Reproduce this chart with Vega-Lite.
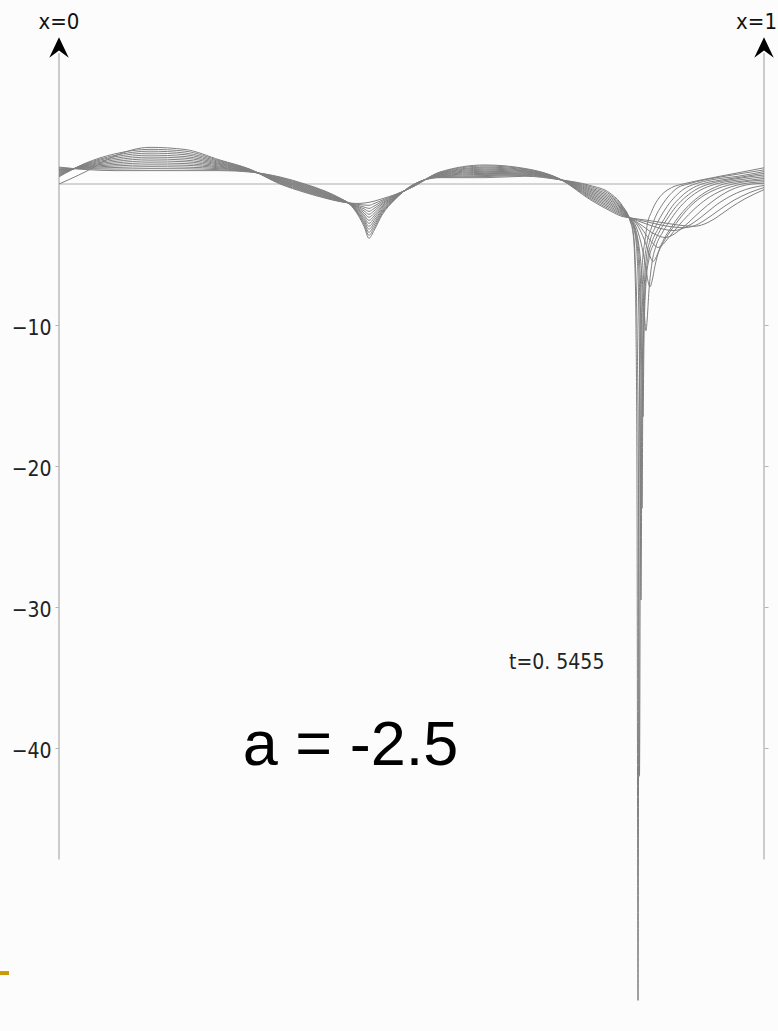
{
"$schema": "https://vega.github.io/schema/vega-lite/v6.json",
"width": 705, "height": 1031,
"autosize": {"type": "none"},
"padding": {"left": 59, "top": 0, "right": 14, "bottom": 0},
"background": "#fcfcfc",
"config": {"view": {"stroke": null}},
"resolve": {"axis": {"y": "independent"}},
"datasets": {
"axes": [{"x": 0, "u": -47.9, "u2": 9.3}, {"x": 1, "u": -47.9, "u2": 9.3}],
"zero": [{"x": 0, "x2": 1, "u": 0}],
"arrows": [{"x": 0, "u": 9.68}, {"x": 1, "u": 9.68}],
"xlabel0": [{"x": 0, "u": 11.5, "label": "x=0"}],
"xlabel1": [{"x": 1.0184, "u": 11.5, "label": "x=1"}],
"tlabel": [{"x": 0.706, "u": -33.97, "label": "t=0. 5455"}],
"alabel": [{"x": 0.4135, "u": -41.2, "label": "a = -2.5"}],
"bar": [{"x": -0.0837, "x2": -0.0709, "u": -55.96}],
"curves": [
{"t":0,"x":0,"u":0},{"t":0,"x":0.0369,"u":0.85},{"t":0,"x":0.0794,"u":2.0},{"t":0,"x":0.1291,"u":2.6},{"t":0,"x":0.1787,"u":2.45},{"t":0,"x":0.2284,"u":1.7},{"t":0,"x":0.2709,"u":1.05},{"t":0,"x":0.3135,"u":0},{"t":0,"x":0.3489,"u":-0.6},{"t":0,"x":0.3773,"u":-1.0},{"t":0,"x":0.3986,"u":-1.25},{"t":0,"x":0.4128,"u":-1.35},{"t":0,"x":0.4241,"u":-1.38},{"t":0,"x":0.4326,"u":-1.35},{"t":0,"x":0.4397,"u":-1.3},{"t":0,"x":0.4468,"u":-1.22},{"t":0,"x":0.4582,"u":-1.05},{"t":0,"x":0.4766,"u":-0.75},{"t":0,"x":0.5021,"u":-0.2},{"t":0,"x":0.5404,"u":0.85},{"t":0,"x":0.6043,"u":1.35},{"t":0,"x":0.661,"u":1.1},{"t":0,"x":0.7106,"u":0.35},{"t":0,"x":0.7532,"u":-1.1},{"t":0,"x":0.7816,"u":-1.9},{"t":0,"x":0.7986,"u":-2.3},
{"t":0,"x":0.8099,"u":-2.4},{"t":0,"x":0.8383,"u":-2.6},{"t":0,"x":0.8638,"u":-2.8},{"t":0,"x":0.8851,"u":-2.95},{"t":0,"x":0.9007,"u":-3.0},{"t":0,"x":0.9149,"u":-2.85},{"t":0,"x":0.9319,"u":-2.4},{"t":0,"x":0.9518,"u":-1.7},{"t":0,"x":0.973,"u":-1.05},{"t":0,"x":1,"u":-0.4},

{"t":0.0455,"x":0,"u":0.51},{"t":0.0455,"x":0.0369,"u":1.46},{"t":0.0455,"x":0.0794,"u":2.14},{"t":0.0455,"x":0.1291,"u":2.46},{"t":0.0455,"x":0.1787,"u":2.33},{"t":0.0455,"x":0.2284,"u":1.64},{"t":0.0455,"x":0.2709,"u":1.03},{"t":0.0455,"x":0.3135,"u":0.04},{"t":0.0455,"x":0.3489,"u":-0.55},{"t":0.0455,"x":0.3773,"u":-0.96},{"t":0.0455,"x":0.3986,"u":-1.23},{"t":0.0455,"x":0.4128,"u":-1.36},{"t":0.0455,"x":0.4241,"u":-1.45},{"t":0.0455,"x":0.4326,"u":-1.49},{"t":0.0455,"x":0.4397,"u":-1.51},{"t":0.0455,"x":0.4468,"u":-1.39},{"t":0.0455,"x":0.4582,"u":-1.15},{"t":0.0455,"x":0.4766,"u":-0.78},{"t":0.0455,"x":0.5021,"u":-0.19},{"t":0.0455,"x":0.5404,"u":0.82},{"t":0.0455,"x":0.6043,"u":1.28},{"t":0.0455,"x":0.661,"u":1.06},{"t":0.0455,"x":0.7106,"u":0.35},{"t":0.0455,"x":0.7532,"u":-1.02},{"t":0.0455,"x":0.7816,"u":-1.8},{"t":0.0455,"x":0.7986,"u":-2.23},
{"t":0.0455,"x":0.8099,"u":-2.4},{"t":0.0455,"x":0.8355,"u":-2.7},{"t":0.0455,"x":0.8582,"u":-2.95},{"t":0.0455,"x":0.8752,"u":-3.07},{"t":0.0455,"x":0.8865,"u":-3.1},{"t":0.0455,"x":0.8993,"u":-3.0},{"t":0.0455,"x":0.9149,"u":-2.6},{"t":0.0455,"x":0.9348,"u":-1.9},{"t":0.0455,"x":0.9574,"u":-1.15},{"t":0.0455,"x":0.9801,"u":-0.6},{"t":0.0455,"x":1,"u":-0.25},

{"t":0.0909,"x":0,"u":0.58},{"t":0.0909,"x":0.0369,"u":1.42},{"t":0.0909,"x":0.0794,"u":2.03},{"t":0.0909,"x":0.1291,"u":2.33},{"t":0.0909,"x":0.1787,"u":2.2},{"t":0.0909,"x":0.2284,"u":1.58},{"t":0.0909,"x":0.2709,"u":1.02},{"t":0.0909,"x":0.3135,"u":0.08},{"t":0.0909,"x":0.3489,"u":-0.5},{"t":0.0909,"x":0.3773,"u":-0.92},{"t":0.0909,"x":0.3986,"u":-1.21},{"t":0.0909,"x":0.4128,"u":-1.37},{"t":0.0909,"x":0.4241,"u":-1.52},{"t":0.0909,"x":0.4326,"u":-1.63},{"t":0.0909,"x":0.4397,"u":-1.73},{"t":0.0909,"x":0.4468,"u":-1.57},{"t":0.0909,"x":0.4582,"u":-1.24},{"t":0.0909,"x":0.4766,"u":-0.81},{"t":0.0909,"x":0.5021,"u":-0.18},{"t":0.0909,"x":0.5404,"u":0.78},{"t":0.0909,"x":0.6043,"u":1.2},{"t":0.0909,"x":0.661,"u":1.01},{"t":0.0909,"x":0.7106,"u":0.34},{"t":0.0909,"x":0.7532,"u":-0.93},{"t":0.0909,"x":0.7816,"u":-1.69},{"t":0.0909,"x":0.7986,"u":-2.17},
{"t":0.0909,"x":0.8099,"u":-2.4},{"t":0.0909,"x":0.8312,"u":-2.8},{"t":0.0909,"x":0.8496,"u":-3.1},{"t":0.0909,"x":0.8638,"u":-3.27},{"t":0.0909,"x":0.8723,"u":-3.3},{"t":0.0909,"x":0.8823,"u":-3.2},{"t":0.0909,"x":0.895,"u":-2.9},{"t":0.0909,"x":0.9121,"u":-2.3},{"t":0.0909,"x":0.9319,"u":-1.5},{"t":0.0909,"x":0.9546,"u":-0.8},{"t":0.0909,"x":0.9801,"u":-0.3},{"t":0.0909,"x":1,"u":-0.1},

{"t":0.1364,"x":0,"u":0.64},{"t":0.1364,"x":0.0369,"u":1.38},{"t":0.1364,"x":0.0794,"u":1.93},{"t":0.1364,"x":0.1291,"u":2.19},{"t":0.1364,"x":0.1787,"u":2.08},{"t":0.1364,"x":0.2284,"u":1.51},{"t":0.1364,"x":0.2709,"u":1.0},{"t":0.1364,"x":0.3135,"u":0.13},{"t":0.1364,"x":0.3489,"u":-0.45},{"t":0.1364,"x":0.3773,"u":-0.88},{"t":0.1364,"x":0.3986,"u":-1.19},{"t":0.1364,"x":0.4128,"u":-1.38},{"t":0.1364,"x":0.4241,"u":-1.59},{"t":0.1364,"x":0.4326,"u":-1.76},{"t":0.1364,"x":0.4397,"u":-1.94},{"t":0.1364,"x":0.4468,"u":-1.74},{"t":0.1364,"x":0.4582,"u":-1.34},{"t":0.1364,"x":0.4766,"u":-0.84},{"t":0.1364,"x":0.5021,"u":-0.16},{"t":0.1364,"x":0.5404,"u":0.75},{"t":0.1364,"x":0.6043,"u":1.13},{"t":0.1364,"x":0.661,"u":0.96},{"t":0.1364,"x":0.7106,"u":0.34},{"t":0.1364,"x":0.7532,"u":-0.85},{"t":0.1364,"x":0.7816,"u":-1.59},{"t":0.1364,"x":0.7986,"u":-2.1},
{"t":0.1364,"x":0.8099,"u":-2.4},{"t":0.1364,"x":0.827,"u":-2.95},{"t":0.1364,"x":0.8411,"u":-3.45},{"t":0.1364,"x":0.8525,"u":-3.72},{"t":0.1364,"x":0.8596,"u":-3.8},{"t":0.1364,"x":0.8681,"u":-3.68},{"t":0.1364,"x":0.8794,"u":-3.3},{"t":0.1364,"x":0.8936,"u":-2.7},{"t":0.1364,"x":0.9106,"u":-1.9},{"t":0.1364,"x":0.9291,"u":-1.15},{"t":0.1364,"x":0.9518,"u":-0.45},{"t":0.1364,"x":0.983,"u":0.0},{"t":0.1364,"x":1,"u":0.05},

{"t":0.1818,"x":0,"u":0.7},{"t":0.1818,"x":0.0369,"u":1.34},{"t":0.1818,"x":0.0794,"u":1.82},{"t":0.1818,"x":0.1291,"u":2.05},{"t":0.1818,"x":0.1787,"u":1.95},{"t":0.1818,"x":0.2284,"u":1.45},{"t":0.1818,"x":0.2709,"u":0.98},{"t":0.1818,"x":0.3135,"u":0.17},{"t":0.1818,"x":0.3489,"u":-0.4},{"t":0.1818,"x":0.3773,"u":-0.83},{"t":0.1818,"x":0.3986,"u":-1.17},{"t":0.1818,"x":0.4128,"u":-1.38},{"t":0.1818,"x":0.4241,"u":-1.65},{"t":0.1818,"x":0.4326,"u":-1.9},{"t":0.1818,"x":0.4397,"u":-2.15},{"t":0.1818,"x":0.4468,"u":-1.91},{"t":0.1818,"x":0.4582,"u":-1.43},{"t":0.1818,"x":0.4766,"u":-0.87},{"t":0.1818,"x":0.5021,"u":-0.15},{"t":0.1818,"x":0.5404,"u":0.72},{"t":0.1818,"x":0.6043,"u":1.05},{"t":0.1818,"x":0.661,"u":0.92},{"t":0.1818,"x":0.7106,"u":0.33},{"t":0.1818,"x":0.7532,"u":-0.77},{"t":0.1818,"x":0.7816,"u":-1.48},{"t":0.1818,"x":0.7986,"u":-2.03},
{"t":0.1818,"x":0.8099,"u":-2.4},{"t":0.1818,"x":0.8241,"u":-3.0},{"t":0.1818,"x":0.8355,"u":-3.8},{"t":0.1818,"x":0.844,"u":-4.3},{"t":0.1818,"x":0.8496,"u":-4.5},{"t":0.1818,"x":0.8553,"u":-4.35},{"t":0.1818,"x":0.8624,"u":-3.95},{"t":0.1818,"x":0.8723,"u":-3.35},{"t":0.1818,"x":0.8851,"u":-2.6},{"t":0.1818,"x":0.9007,"u":-1.8},{"t":0.1818,"x":0.9191,"u":-1.05},{"t":0.1818,"x":0.9404,"u":-0.45},{"t":0.1818,"x":0.9688,"u":0.0},{"t":0.1818,"x":1,"u":0.16},

{"t":0.2273,"x":0,"u":0.76},{"t":0.2273,"x":0.0369,"u":1.3},{"t":0.2273,"x":0.0794,"u":1.71},{"t":0.2273,"x":0.1291,"u":1.91},{"t":0.2273,"x":0.1787,"u":1.83},{"t":0.2273,"x":0.2284,"u":1.39},{"t":0.2273,"x":0.2709,"u":0.97},{"t":0.2273,"x":0.3135,"u":0.21},{"t":0.2273,"x":0.3489,"u":-0.35},{"t":0.2273,"x":0.3773,"u":-0.79},{"t":0.2273,"x":0.3986,"u":-1.15},{"t":0.2273,"x":0.4128,"u":-1.39},{"t":0.2273,"x":0.4241,"u":-1.72},{"t":0.2273,"x":0.4326,"u":-2.04},{"t":0.2273,"x":0.4397,"u":-2.36},{"t":0.2273,"x":0.4468,"u":-2.09},{"t":0.2273,"x":0.4582,"u":-1.53},{"t":0.2273,"x":0.4766,"u":-0.9},{"t":0.2273,"x":0.5021,"u":-0.14},{"t":0.2273,"x":0.5404,"u":0.68},{"t":0.2273,"x":0.6043,"u":0.98},{"t":0.2273,"x":0.661,"u":0.87},{"t":0.2273,"x":0.7106,"u":0.33},{"t":0.2273,"x":0.7532,"u":-0.68},{"t":0.2273,"x":0.7816,"u":-1.38},{"t":0.2273,"x":0.7986,"u":-1.97},
{"t":0.2273,"x":0.8099,"u":-2.4},{"t":0.2273,"x":0.8213,"u":-3.0},{"t":0.2273,"x":0.8298,"u":-3.9},{"t":0.2273,"x":0.8369,"u":-4.9},{"t":0.2273,"x":0.8397,"u":-5.3},{"t":0.2273,"x":0.8426,"u":-5.5},{"t":0.2273,"x":0.8454,"u":-5.35},{"t":0.2273,"x":0.8496,"u":-4.9},{"t":0.2273,"x":0.8553,"u":-4.3},{"t":0.2273,"x":0.8638,"u":-3.6},{"t":0.2273,"x":0.8752,"u":-2.8},{"t":0.2273,"x":0.8894,"u":-1.9},{"t":0.2273,"x":0.9064,"u":-1.1},{"t":0.2273,"x":0.9262,"u":-0.5},{"t":0.2273,"x":0.956,"u":0.0},{"t":0.2273,"x":1,"u":0.28},

{"t":0.2727,"x":0,"u":0.83},{"t":0.2727,"x":0.0369,"u":1.27},{"t":0.2727,"x":0.0794,"u":1.6},{"t":0.2727,"x":0.1291,"u":1.78},{"t":0.2727,"x":0.1787,"u":1.7},{"t":0.2727,"x":0.2284,"u":1.33},{"t":0.2727,"x":0.2709,"u":0.95},{"t":0.2727,"x":0.3135,"u":0.25},{"t":0.2727,"x":0.3489,"u":-0.3},{"t":0.2727,"x":0.3773,"u":-0.75},{"t":0.2727,"x":0.3986,"u":-1.13},{"t":0.2727,"x":0.4128,"u":-1.4},{"t":0.2727,"x":0.4241,"u":-1.79},{"t":0.2727,"x":0.4326,"u":-2.18},{"t":0.2727,"x":0.4397,"u":-2.58},{"t":0.2727,"x":0.4468,"u":-2.26},{"t":0.2727,"x":0.4582,"u":-1.63},{"t":0.2727,"x":0.4766,"u":-0.93},{"t":0.2727,"x":0.5021,"u":-0.13},{"t":0.2727,"x":0.5404,"u":0.65},{"t":0.2727,"x":0.6043,"u":0.9},{"t":0.2727,"x":0.661,"u":0.83},{"t":0.2727,"x":0.7106,"u":0.33},{"t":0.2727,"x":0.7532,"u":-0.6},{"t":0.2727,"x":0.7816,"u":-1.28},{"t":0.2727,"x":0.7986,"u":-1.9},
{"t":0.2727,"x":0.8099,"u":-2.4},{"t":0.2727,"x":0.8199,"u":-3.2},{"t":0.2727,"x":0.827,"u":-4.5},{"t":0.2727,"x":0.8326,"u":-6.0},{"t":0.2727,"x":0.8355,"u":-6.9},{"t":0.2727,"x":0.8383,"u":-7.3},{"t":0.2727,"x":0.8411,"u":-6.9},{"t":0.2727,"x":0.8454,"u":-5.8},{"t":0.2727,"x":0.8511,"u":-4.7},{"t":0.2727,"x":0.8582,"u":-3.9},{"t":0.2727,"x":0.8681,"u":-3.1},{"t":0.2727,"x":0.8809,"u":-2.2},{"t":0.2727,"x":0.8979,"u":-1.3},{"t":0.2727,"x":0.9163,"u":-0.6},{"t":0.2727,"x":0.9433,"u":0.0},{"t":0.2727,"x":0.9716,"u":0.22},{"t":0.2727,"x":1,"u":0.4},

{"t":0.3182,"x":0,"u":0.89},{"t":0.3182,"x":0.0369,"u":1.23},{"t":0.3182,"x":0.0794,"u":1.49},{"t":0.3182,"x":0.1291,"u":1.64},{"t":0.3182,"x":0.1787,"u":1.58},{"t":0.3182,"x":0.2284,"u":1.26},{"t":0.3182,"x":0.2709,"u":0.93},{"t":0.3182,"x":0.3135,"u":0.29},{"t":0.3182,"x":0.3489,"u":-0.25},{"t":0.3182,"x":0.3773,"u":-0.71},{"t":0.3182,"x":0.3986,"u":-1.1},{"t":0.3182,"x":0.4128,"u":-1.41},{"t":0.3182,"x":0.4241,"u":-1.86},{"t":0.3182,"x":0.4326,"u":-2.31},{"t":0.3182,"x":0.4397,"u":-2.79},{"t":0.3182,"x":0.4468,"u":-2.43},{"t":0.3182,"x":0.4582,"u":-1.72},{"t":0.3182,"x":0.4766,"u":-0.95},{"t":0.3182,"x":0.5021,"u":-0.11},{"t":0.3182,"x":0.5404,"u":0.62},{"t":0.3182,"x":0.6043,"u":0.83},{"t":0.3182,"x":0.661,"u":0.78},{"t":0.3182,"x":0.7106,"u":0.32},{"t":0.3182,"x":0.7532,"u":-0.52},{"t":0.3182,"x":0.7816,"u":-1.17},{"t":0.3182,"x":0.7986,"u":-1.83},
{"t":0.3182,"x":0.8099,"u":-2.45},{"t":0.3182,"x":0.8184,"u":-3.3},{"t":0.3182,"x":0.8241,"u":-5.0},{"t":0.3182,"x":0.8284,"u":-7.5},{"t":0.3182,"x":0.8312,"u":-9.8},{"t":0.3182,"x":0.8326,"u":-10.4},{"t":0.3182,"x":0.834,"u":-9.8},{"t":0.3182,"x":0.8369,"u":-7.5},{"t":0.3182,"x":0.8411,"u":-5.6},{"t":0.3182,"x":0.8468,"u":-4.4},{"t":0.3182,"x":0.8553,"u":-3.5},{"t":0.3182,"x":0.8652,"u":-2.7},{"t":0.3182,"x":0.878,"u":-1.8},{"t":0.3182,"x":0.8936,"u":-1.0},{"t":0.3182,"x":0.9092,"u":-0.45},{"t":0.3182,"x":0.9319,"u":0.0},{"t":0.3182,"x":0.966,"u":0.3},{"t":0.3182,"x":1,"u":0.52},

{"t":0.3636,"x":0,"u":0.95},{"t":0.3636,"x":0.0369,"u":1.19},{"t":0.3636,"x":0.0794,"u":1.38},{"t":0.3636,"x":0.1291,"u":1.5},{"t":0.3636,"x":0.1787,"u":1.45},{"t":0.3636,"x":0.2284,"u":1.2},{"t":0.3636,"x":0.2709,"u":0.92},{"t":0.3636,"x":0.3135,"u":0.33},{"t":0.3636,"x":0.3489,"u":-0.2},{"t":0.3636,"x":0.3773,"u":-0.67},{"t":0.3636,"x":0.3986,"u":-1.08},{"t":0.3636,"x":0.4128,"u":-1.42},{"t":0.3636,"x":0.4241,"u":-1.93},{"t":0.3636,"x":0.4326,"u":-2.45},{"t":0.3636,"x":0.4397,"u":-3.0},{"t":0.3636,"x":0.4468,"u":-2.61},{"t":0.3636,"x":0.4582,"u":-1.82},{"t":0.3636,"x":0.4766,"u":-0.98},{"t":0.3636,"x":0.5021,"u":-0.1},{"t":0.3636,"x":0.5404,"u":0.58},{"t":0.3636,"x":0.6043,"u":0.75},{"t":0.3636,"x":0.661,"u":0.73},{"t":0.3636,"x":0.7106,"u":0.32},{"t":0.3636,"x":0.7532,"u":-0.43},{"t":0.3636,"x":0.7816,"u":-1.07},{"t":0.3636,"x":0.7986,"u":-1.77},
{"t":0.3636,"x":0.8099,"u":-2.45},{"t":0.3636,"x":0.817,"u":-3.2},{"t":0.3636,"x":0.8227,"u":-5.0},{"t":0.3636,"x":0.8255,"u":-8.0},{"t":0.3636,"x":0.827,"u":-11.5},{"t":0.3636,"x":0.8284,"u":-16.5},{"t":0.3636,"x":0.8298,"u":-11.0},{"t":0.3636,"x":0.8326,"u":-7.0},{"t":0.3636,"x":0.8369,"u":-5.3},{"t":0.3636,"x":0.844,"u":-4.2},{"t":0.3636,"x":0.8525,"u":-3.3},{"t":0.3636,"x":0.8624,"u":-2.5},{"t":0.3636,"x":0.8752,"u":-1.6},{"t":0.3636,"x":0.8894,"u":-0.9},{"t":0.3636,"x":0.905,"u":-0.35},{"t":0.3636,"x":0.922,"u":0.0},{"t":0.3636,"x":0.9518,"u":0.3},{"t":0.3636,"x":1,"u":0.64},

{"t":0.4091,"x":0,"u":1.01},{"t":0.4091,"x":0.0369,"u":1.15},{"t":0.4091,"x":0.0794,"u":1.28},{"t":0.4091,"x":0.1291,"u":1.36},{"t":0.4091,"x":0.1787,"u":1.33},{"t":0.4091,"x":0.2284,"u":1.14},{"t":0.4091,"x":0.2709,"u":0.9},{"t":0.4091,"x":0.3135,"u":0.38},{"t":0.4091,"x":0.3489,"u":-0.15},{"t":0.4091,"x":0.3773,"u":-0.63},{"t":0.4091,"x":0.3986,"u":-1.06},{"t":0.4091,"x":0.4128,"u":-1.43},{"t":0.4091,"x":0.4241,"u":-2.0},{"t":0.4091,"x":0.4326,"u":-2.59},{"t":0.4091,"x":0.4397,"u":-3.21},{"t":0.4091,"x":0.4468,"u":-2.78},{"t":0.4091,"x":0.4582,"u":-1.91},{"t":0.4091,"x":0.4766,"u":-1.01},{"t":0.4091,"x":0.5021,"u":-0.09},{"t":0.4091,"x":0.5404,"u":0.55},{"t":0.4091,"x":0.6043,"u":0.68},{"t":0.4091,"x":0.661,"u":0.69},{"t":0.4091,"x":0.7106,"u":0.31},{"t":0.4091,"x":0.7532,"u":-0.35},{"t":0.4091,"x":0.7816,"u":-0.96},{"t":0.4091,"x":0.7986,"u":-1.7},
{"t":0.4091,"x":0.8099,"u":-2.5},{"t":0.4091,"x":0.8156,"u":-3.1},{"t":0.4091,"x":0.8213,"u":-5.0},{"t":0.4091,"x":0.8241,"u":-9.0},{"t":0.4091,"x":0.8255,"u":-14.0},{"t":0.4091,"x":0.827,"u":-23.0},{"t":0.4091,"x":0.8284,"u":-13.0},{"t":0.4091,"x":0.8312,"u":-7.5},{"t":0.4091,"x":0.8355,"u":-5.2},{"t":0.4091,"x":0.8411,"u":-4.1},{"t":0.4091,"x":0.8496,"u":-3.2},{"t":0.4091,"x":0.8582,"u":-2.5},{"t":0.4091,"x":0.8695,"u":-1.6},{"t":0.4091,"x":0.8823,"u":-0.9},{"t":0.4091,"x":0.8965,"u":-0.35},{"t":0.4091,"x":0.9121,"u":0.0},{"t":0.4091,"x":0.9376,"u":0.27},{"t":0.4091,"x":0.9688,"u":0.5},{"t":0.4091,"x":1,"u":0.76},

{"t":0.4545,"x":0,"u":1.08},{"t":0.4545,"x":0.0369,"u":1.11},{"t":0.4545,"x":0.0794,"u":1.17},{"t":0.4545,"x":0.1291,"u":1.23},{"t":0.4545,"x":0.1787,"u":1.2},{"t":0.4545,"x":0.2284,"u":1.08},{"t":0.4545,"x":0.2709,"u":0.88},{"t":0.4545,"x":0.3135,"u":0.42},{"t":0.4545,"x":0.3489,"u":-0.1},{"t":0.4545,"x":0.3773,"u":-0.58},{"t":0.4545,"x":0.3986,"u":-1.04},{"t":0.4545,"x":0.4128,"u":-1.43},{"t":0.4545,"x":0.4241,"u":-2.06},{"t":0.4545,"x":0.4326,"u":-2.73},{"t":0.4545,"x":0.4397,"u":-3.43},{"t":0.4545,"x":0.4468,"u":-2.95},{"t":0.4545,"x":0.4582,"u":-2.01},{"t":0.4545,"x":0.4766,"u":-1.04},{"t":0.4545,"x":0.5021,"u":-0.08},{"t":0.4545,"x":0.5404,"u":0.52},{"t":0.4545,"x":0.6043,"u":0.6},{"t":0.4545,"x":0.661,"u":0.64},{"t":0.4545,"x":0.7106,"u":0.31},{"t":0.4545,"x":0.7532,"u":-0.27},{"t":0.4545,"x":0.7816,"u":-0.86},{"t":0.4545,"x":0.7986,"u":-1.63},
{"t":0.4545,"x":0.8099,"u":-2.5},{"t":0.4545,"x":0.8156,"u":-3.2},{"t":0.4545,"x":0.8199,"u":-5.0},{"t":0.4545,"x":0.8227,"u":-10.0},{"t":0.4545,"x":0.8241,"u":-17.0},{"t":0.4545,"x":0.8255,"u":-29.5},{"t":0.4545,"x":0.827,"u":-16.0},{"t":0.4545,"x":0.8291,"u":-9.0},{"t":0.4545,"x":0.8326,"u":-5.5},{"t":0.4545,"x":0.8383,"u":-4.0},{"t":0.4545,"x":0.8454,"u":-3.1},{"t":0.4545,"x":0.8525,"u":-2.4},{"t":0.4545,"x":0.8624,"u":-1.6},{"t":0.4545,"x":0.8738,"u":-0.9},{"t":0.4545,"x":0.8865,"u":-0.35},{"t":0.4545,"x":0.9021,"u":0.0},{"t":0.4545,"x":0.9262,"u":0.3},{"t":0.4545,"x":0.9631,"u":0.55},{"t":0.4545,"x":1,"u":0.88},

{"t":0.5,"x":0,"u":1.14},{"t":0.5,"x":0.0369,"u":1.07},{"t":0.5,"x":0.0794,"u":1.06},{"t":0.5,"x":0.1291,"u":1.09},{"t":0.5,"x":0.1787,"u":1.08},{"t":0.5,"x":0.2284,"u":1.01},{"t":0.5,"x":0.2709,"u":0.87},{"t":0.5,"x":0.3135,"u":0.46},{"t":0.5,"x":0.3489,"u":-0.05},{"t":0.5,"x":0.3773,"u":-0.54},{"t":0.5,"x":0.3986,"u":-1.02},{"t":0.5,"x":0.4128,"u":-1.44},{"t":0.5,"x":0.4241,"u":-2.13},{"t":0.5,"x":0.4326,"u":-2.86},{"t":0.5,"x":0.4397,"u":-3.64},{"t":0.5,"x":0.4468,"u":-3.13},{"t":0.5,"x":0.4582,"u":-2.1},{"t":0.5,"x":0.4766,"u":-1.07},{"t":0.5,"x":0.5021,"u":-0.06},{"t":0.5,"x":0.5404,"u":0.48},{"t":0.5,"x":0.6043,"u":0.53},{"t":0.5,"x":0.661,"u":0.6},{"t":0.5,"x":0.7106,"u":0.31},{"t":0.5,"x":0.7532,"u":-0.18},{"t":0.5,"x":0.7816,"u":-0.75},{"t":0.5,"x":0.7986,"u":-1.57},
{"t":0.5,"x":0.8099,"u":-2.55},{"t":0.5,"x":0.8142,"u":-3.3},{"t":0.5,"x":0.817,"u":-5.0},{"t":0.5,"x":0.8199,"u":-10.0},{"t":0.5,"x":0.822,"u":-22.0},{"t":0.5,"x":0.8234,"u":-42.0},{"t":0.5,"x":0.8248,"u":-20.0},{"t":0.5,"x":0.827,"u":-10.0},{"t":0.5,"x":0.8298,"u":-6.0},{"t":0.5,"x":0.834,"u":-4.2},{"t":0.5,"x":0.8397,"u":-3.2},{"t":0.5,"x":0.8454,"u":-2.4},{"t":0.5,"x":0.8553,"u":-1.5},{"t":0.5,"x":0.8667,"u":-0.75},{"t":0.5,"x":0.878,"u":-0.25},{"t":0.5,"x":0.8922,"u":0.0},{"t":0.5,"x":0.9163,"u":0.3},{"t":0.5,"x":0.9447,"u":0.55},{"t":0.5,"x":0.973,"u":0.78},{"t":0.5,"x":1,"u":1.0},

{"t":0.5455,"x":0,"u":1.2},{"t":0.5455,"x":0.0369,"u":1.03},{"t":0.5455,"x":0.0794,"u":0.95},{"t":0.5455,"x":0.1291,"u":0.95},{"t":0.5455,"x":0.1787,"u":0.95},{"t":0.5455,"x":0.2284,"u":0.95},{"t":0.5455,"x":0.2709,"u":0.85},{"t":0.5455,"x":0.3135,"u":0.5},{"t":0.5455,"x":0.3489,"u":0.0},{"t":0.5455,"x":0.3773,"u":-0.5},{"t":0.5455,"x":0.3986,"u":-1.0},{"t":0.5455,"x":0.4128,"u":-1.45},{"t":0.5455,"x":0.4241,"u":-2.2},{"t":0.5455,"x":0.4326,"u":-3.0},{"t":0.5455,"x":0.4397,"u":-3.85},{"t":0.5455,"x":0.4468,"u":-3.3},{"t":0.5455,"x":0.4582,"u":-2.2},{"t":0.5455,"x":0.4766,"u":-1.1},{"t":0.5455,"x":0.5021,"u":-0.05},{"t":0.5455,"x":0.5404,"u":0.45},{"t":0.5455,"x":0.6043,"u":0.45},{"t":0.5455,"x":0.661,"u":0.55},{"t":0.5455,"x":0.7106,"u":0.3},{"t":0.5455,"x":0.7532,"u":-0.1},{"t":0.5455,"x":0.7816,"u":-0.65},{"t":0.5455,"x":0.7986,"u":-1.5},
{"t":0.5455,"x":0.8099,"u":-2.6},{"t":0.5455,"x":0.8142,"u":-3.5},{"t":0.5455,"x":0.817,"u":-6.0},{"t":0.5455,"x":0.8184,"u":-10.0},{"t":0.5455,"x":0.8199,"u":-22.0},{"t":0.5455,"x":0.8213,"u":-57.9},{"t":0.5455,"x":0.8227,"u":-22.0},{"t":0.5455,"x":0.8241,"u":-11.0},{"t":0.5455,"x":0.827,"u":-6.0},{"t":0.5455,"x":0.8312,"u":-4.0},{"t":0.5455,"x":0.834,"u":-3.0},{"t":0.5455,"x":0.8411,"u":-1.9},{"t":0.5455,"x":0.8525,"u":-0.9},{"t":0.5455,"x":0.8638,"u":-0.4},{"t":0.5455,"x":0.8738,"u":-0.15},{"t":0.5455,"x":0.8851,"u":0.0},{"t":0.5455,"x":0.9092,"u":0.27},{"t":0.5455,"x":0.9376,"u":0.55},{"t":0.5455,"x":0.966,"u":0.82},{"t":0.5455,"x":1,"u":1.15}
]
},
"layer": [
{
"data": {"name": "axes"},
"mark": {"type": "rule", "color": "#bdbdbd", "strokeWidth": 1.5},
"encoding": {
"x": {"field": "x", "type": "quantitative", "scale": {"domain": [0, 1], "nice": false, "zero": false}, "axis": null},
"y": {"field": "u", "type": "quantitative", "scale": {"domain": [-60.07, 13.05], "nice": false, "zero": false},
"axis": {"orient": "left", "values": [-10, -20, -30, -40], "domain": false, "grid": false, "ticks": true, "tickColor": "#b5b5b5", "tickSize": 4, "tickWidth": 1, "labelFont": "DejaVu Sans Condensed, Liberation Sans Narrow, DejaVu Sans", "labelFontSize": 21, "labelColor": "#222222", "labelPadding": 4, "labelOffset": 3, "title": null}},
"y2": {"field": "u2"}
}
},
{
"data": {"name": "zero"},
"mark": {"type": "rule", "color": "#c8c8c8", "strokeWidth": 1.5},
"encoding": {
"x": {"field": "x", "type": "quantitative", "scale": {"domain": [0, 1], "nice": false, "zero": false}, "axis": null},
"x2": {"field": "x2"},
"y": {"field": "u", "type": "quantitative", "scale": {"domain": [-60.07, 13.05], "nice": false, "zero": false},
"axis": {"orient": "right", "values": [-10, -20, -30, -40], "domain": false, "grid": false, "ticks": true, "tickColor": "#b5b5b5", "tickSize": 4, "tickWidth": 1, "labels": false, "title": null}}
}
},
{
"data": {"name": "curves"},
"mark": {"type": "line", "interpolate": "monotone", "stroke": "#808080", "strokeWidth": 1},
"encoding": {
"x": {"field": "x", "type": "quantitative", "scale": {"domain": [0, 1], "nice": false, "zero": false}, "axis": null},
"y": {"field": "u", "type": "quantitative", "scale": {"domain": [-60.07, 13.05], "nice": false, "zero": false}, "axis": null},
"detail": {"field": "t", "type": "nominal"}
}
},
{
"data": {"name": "arrows"},
"mark": {"type": "point", "shape": "M0,-1L0.95,1L0,0.3L-0.95,1Z", "filled": true, "color": "#000000", "opacity": 1, "size": 420, "strokeWidth": 0},
"encoding": {
"x": {"field": "x", "type": "quantitative", "scale": {"domain": [0, 1], "nice": false, "zero": false}, "axis": null},
"y": {"field": "u", "type": "quantitative", "scale": {"domain": [-60.07, 13.05], "nice": false, "zero": false}, "axis": null}
}
},
{
"data": {"name": "xlabel0"},
"mark": {"type": "text", "font": "DejaVu Sans Condensed, Liberation Sans Narrow, DejaVu Sans", "fontSize": 22, "color": "#111111", "align": "center", "baseline": "middle"},
"encoding": {
"x": {"field": "x", "type": "quantitative", "scale": {"domain": [0, 1], "nice": false, "zero": false}, "axis": null},
"y": {"field": "u", "type": "quantitative", "scale": {"domain": [-60.07, 13.05], "nice": false, "zero": false}, "axis": null},
"text": {"field": "label"}
}
},
{
"data": {"name": "xlabel1"},
"mark": {"type": "text", "font": "DejaVu Sans Condensed, Liberation Sans Narrow, DejaVu Sans", "fontSize": 22, "color": "#111111", "align": "right", "baseline": "middle"},
"encoding": {
"x": {"field": "x", "type": "quantitative", "scale": {"domain": [0, 1], "nice": false, "zero": false}, "axis": null},
"y": {"field": "u", "type": "quantitative", "scale": {"domain": [-60.07, 13.05], "nice": false, "zero": false}, "axis": null},
"text": {"field": "label"}
}
},
{
"data": {"name": "tlabel"},
"mark": {"type": "text", "font": "DejaVu Sans Condensed, Liberation Sans Narrow, DejaVu Sans", "fontSize": 21, "color": "#222222", "align": "center", "baseline": "middle"},
"encoding": {
"x": {"field": "x", "type": "quantitative", "scale": {"domain": [0, 1], "nice": false, "zero": false}, "axis": null},
"y": {"field": "u", "type": "quantitative", "scale": {"domain": [-60.07, 13.05], "nice": false, "zero": false}, "axis": null},
"text": {"field": "label"}
}
},
{
"data": {"name": "alabel"},
"mark": {"type": "text", "font": "Liberation Sans, Arial, sans-serif", "fontSize": 63, "color": "#000000", "align": "center", "baseline": "alphabetic"},
"encoding": {
"x": {"field": "x", "type": "quantitative", "scale": {"domain": [0, 1], "nice": false, "zero": false}, "axis": null},
"y": {"field": "u", "type": "quantitative", "scale": {"domain": [-60.07, 13.05], "nice": false, "zero": false}, "axis": null},
"text": {"field": "label"}
}
},
{
"data": {"name": "bar"},
"mark": {"type": "rule", "color": "#c99a06", "strokeWidth": 4},
"encoding": {
"x": {"field": "x", "type": "quantitative", "scale": {"domain": [0, 1], "nice": false, "zero": false}, "axis": null},
"x2": {"field": "x2"},
"y": {"field": "u", "type": "quantitative", "scale": {"domain": [-60.07, 13.05], "nice": false, "zero": false}, "axis": null}
}
}
]
}
